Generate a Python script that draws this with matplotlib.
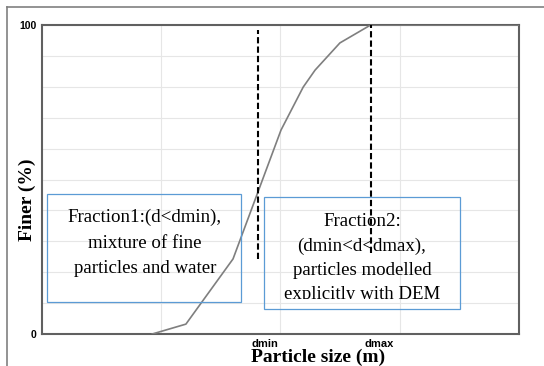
import matplotlib.pyplot as plt
from matplotlib.lines import Line2D
from matplotlib.patches import Rectangle
from matplotlib.transforms import Bbox

# grading curve (particle size in m, percent finer)
size_m = [8.4e-6, 1.61e-5, 4.0e-5, 1.01e-4, 1.55e-4, 1.95e-4, 3.15e-4, 5.7e-4, 1e-2]
finer_pct = [0, 3.2, 24.3, 66.0, 79.9, 85.4, 94.2, 100, 100]

d_min = 6.5e-5
d_max = 5.75e-4
dmin_top, dmax_top = 98.5, 100
dmin_bot, dmax_bot = 24.3, 26.2

box1_text = "Fraction1:(d<dmin),\nmixture of fine\nparticles and water"
box2_text = "Fraction2:\n(dmin<d<dmax),\nparticles modelled\nexplicitly with DEM"

serif = ['Liberation Serif', 'DejaVu Serif']
sans = ['Liberation Sans', 'DejaVu Sans']

fig = plt.figure(figsize=(5.44, 3.66), dpi=100)
ax = fig.add_axes([0.0772, 0.0874, 0.8768, 0.8443])

ax.plot(size_m, finer_pct, color='#7f7f7f', lw=1.2, zorder=3)
ax.plot([d_min, d_min], [dmin_bot, dmin_top], color='black', ls='--', lw=1.5, dashes=(3, 1.5), zorder=4)
ax.plot([d_max, d_max], [dmax_bot, dmax_top], color='black', ls='--', lw=1.5, dashes=(3, 1.5), zorder=4)

ax.set_xscale('log')
ax.set_xlim(1e-6, 1e-2)
ax.set_ylim(0, 100)
ax.set_xticks([1e-5, 1e-4, 1e-3])
ax.minorticks_off()
ax.set_xticklabels([])
ax.set_yticks(range(0, 101, 10))
ax.set_yticklabels(['0'] + [''] * 9 + ['100'], fontfamily=sans, fontweight='bold', fontsize=7.5)
ax.tick_params(length=0, pad=4)
ax.grid(True, color='#e6e6e6', lw=0.8)
for s in ax.spines.values():
    s.set_color('#606060')
    s.set_linewidth(1.5)

# dmin / dmax labels under the axis
for xv, lab in [(d_min, 'dmin'), (d_max, 'dmax')]:
    ax.annotate(lab, xy=(xv, 0), xycoords=('data', 'axes fraction'), xytext=(-4.5, -3.5),
                textcoords='offset points', ha='left', va='top', fontsize=8,
                fontfamily=sans, fontweight='bold')

fig.text(27 / 544, 1 - 200 / 366, 'Finer (%)', rotation=90, ha='center', va='center',
         fontsize=14, fontweight='bold', fontfamily=serif)
fig.text(318 / 544, 1 - 357 / 366, 'Particle size (m)', ha='center', va='center',
         fontsize=14, fontweight='bold', fontfamily=serif)

# annotation boxes (pixel positions of the figure)
W, H = 544, 366
r1 = Rectangle((47 / W, 1 - 302 / H), 194 / W, 108 / H, transform=fig.transFigure,
               fill=False, edgecolor='#5b9bd5', lw=0.9, zorder=5)
r2 = Rectangle((264 / W, 1 - 309 / H), 196 / W, 112 / H, transform=fig.transFigure,
               fill=False, edgecolor='#5b9bd5', lw=0.9, zorder=5)
fig.add_artist(r1)
fig.add_artist(r2)
fig.text(145 / W, 1 - 243 / H, box1_text, ha='center', va='center', fontsize=13.6,
         fontfamily=serif, linespacing=1.63)
t2 = fig.text(362 / W, 1 - 213 / H, box2_text, ha='center', va='top', fontsize=13.6,
              fontfamily=serif, linespacing=1.55)
t2.set_clip_box(Bbox.from_extents(0, 366 - 299, 544, 366))
t2.set_clip_on(True)

# outer frame of the page
fig.add_artist(Line2D([7 / W, 1], [1 - 7 / H, 1 - 7 / H], transform=fig.transFigure, color='#808080', lw=1.2))
fig.add_artist(Line2D([7 / W, 7 / W], [0, 1 - 7 / H], transform=fig.transFigure, color='#808080', lw=1.2))

fig.savefig('out.png', dpi=100)
